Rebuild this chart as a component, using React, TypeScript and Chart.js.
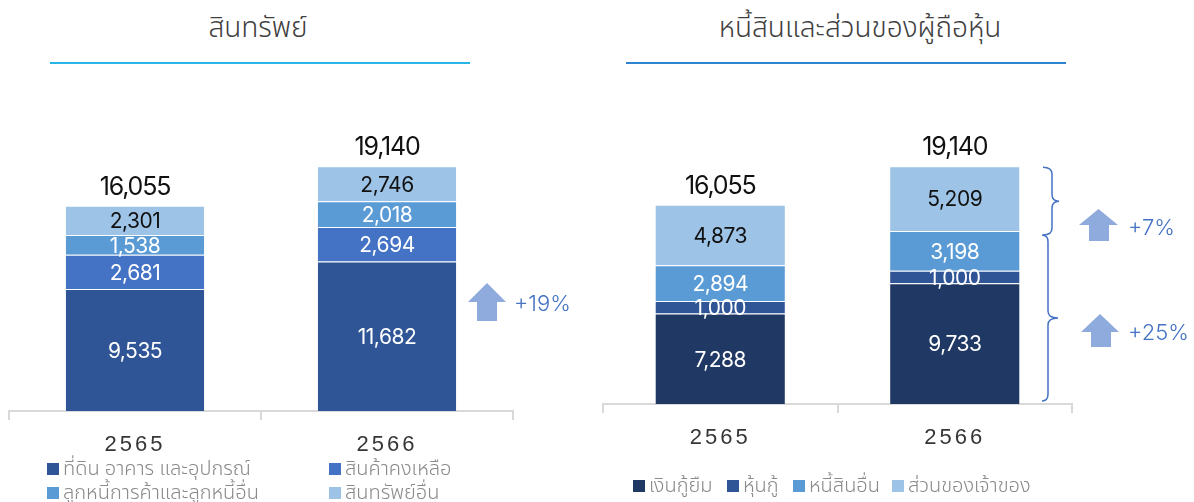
import React, { useEffect, useRef } from "react";
import { Chart, registerables } from "chart.js";

Chart.register(...registerables);

// ---------- data ----------
const years = ["2565", "2566"];

const assetNames = ["ที่ดิน อาคาร และอุปกรณ์", "สินค้าคงเหลือ", "ลูกหนี้การค้าและลูกหนี้อื่น", "สินทรัพย์อื่น"];
const ppe = [9535, 11682];
const inventory = [2681, 2694];
const receivables = [1538, 2018];
const otherAssets = [2301, 2746];
const assetTotals = [16055, 19140];
const assetColors = ["#2F5597", "#4472C4", "#5B9BD5", "#9DC3E6"];
const assetTextColors = ["#FFFFFF", "#FFFFFF", "#FFFFFF", "#111111"];

const liabNames = ["เงินกู้ยืม", "หุ้นกู้", "หนี้สินอื่น", "ส่วนของเจ้าของ"];
const loans = [7288, 9733];
const debentures = [1000, 1000];
const otherLiabilities = [2894, 3198];
const equity = [4873, 5209];
const liabTotals = [16055, 19140];
const liabColors = ["#203864", "#2F5597", "#5B9BD5", "#9DC3E6"];
const liabTextColors = ["#FFFFFF", "#FFFFFF", "#FFFFFF", "#111111"];

const assetGrowth = "+19%";
const equityGrowth = "+7%";
const liabilityGrowth = "+25%";

const titleAssets = "สินทรัพย์";
const titleLiab = "หนี้สินและส่วนของผู้ถือหุ้น";

// ---------- style ----------
const THAI = '"Noto Sans Thai", "Noto Sans Thai UI", "Noto Looped Thai", "Loma", "Garuda", "Tlwg Typist", "Norasi", "Noto Sans", sans-serif';
const NUM = 'Inter, "Noto Sans", sans-serif';
const ARROW = "#8FAADC";
const ACCENT = "#4472C4";

const fmt = (v: number) => v.toLocaleString("en-US");

function drawArrow(ctx: any, hl: number, hr: number, tip: number, base: number, sl: number, sr: number, bottom: number) {
  ctx.beginPath();
  ctx.moveTo((hl + hr) / 2, tip);
  ctx.lineTo(hr, base);
  ctx.lineTo(sr, base);
  ctx.lineTo(sr, bottom);
  ctx.lineTo(sl, bottom);
  ctx.lineTo(sl, base);
  ctx.lineTo(hl, base);
  ctx.closePath();
  ctx.fillStyle = ARROW;
  ctx.fill();
}

function drawBrace(ctx: any, xv: number, top: number, bot: number, endX: number, tipX: number) {
  const mid = (top + bot) / 2;
  const r = 7;
  ctx.beginPath();
  ctx.moveTo(endX, top);
  ctx.quadraticCurveTo(xv, top, xv, top + r);
  ctx.lineTo(xv, mid - r);
  ctx.quadraticCurveTo(xv, mid, tipX, mid);
  ctx.quadraticCurveTo(xv, mid, xv, mid + r);
  ctx.lineTo(xv, bot - r);
  ctx.quadraticCurveTo(xv, bot, endX, bot);
  ctx.strokeStyle = ACCENT;
  ctx.lineWidth = 1.5;
  ctx.stroke();
}

function drawGrowthText(ctx: any, text: string, x: number, y: number) {
  ctx.save();
  ctx.letterSpacing = "0px";
  ctx.font = `300 22px ${NUM}`;
  ctx.fillStyle = ACCENT;
  ctx.textAlign = "left";
  ctx.textBaseline = "middle";
  ctx.fillText(text, x, y);
  ctx.restore();
}

type Cfg = {
  names: string[];
  series: number[][];
  colors: string[];
  textColors: string[];
  totals: number[];
  pad: { left: number; right: number; top: number };
  axisHeight: number;
  catPct: number;
  extra: (chart: any, ctx: any) => void;
};

function StackChart({ cfg, style }: { cfg: Cfg; style: any }) {
  const ref = useRef<HTMLCanvasElement>(null);
  useEffect(() => {
    const canvas = ref.current!;
    const plugin = {
      id: "extras",
      beforeDraw(chart: any) {
        chart.ctx.letterSpacing = "3px";
      },
      beforeDatasetsDraw(chart: any) {
        chart.ctx.letterSpacing = "0px";
      },
      afterDatasetsDraw(chart: any) {
        const ctx = chart.ctx;
        ctx.save();
        ctx.letterSpacing = "-0.5px";
        ctx.font = `400 21px ${NUM}`;
        ctx.textAlign = "center";
        ctx.textBaseline = "middle";
        chart.data.datasets.forEach((ds: any, di: number) => {
          const meta = chart.getDatasetMeta(di);
          meta.data.forEach((el: any, i: number) => {
            const p = el.getProps(["x", "y", "base"], true);
            ctx.fillStyle = cfg.textColors[di];
            ctx.fillText(fmt(ds.data[i]), p.x, (p.y + p.base) / 2 + 1.5);
          });
        });
        const last = chart.getDatasetMeta(chart.data.datasets.length - 1);
        ctx.font = `400 25px ${NUM}`;
        ctx.letterSpacing = "-1.2px";
        ctx.fillStyle = "#111111";
        ctx.textBaseline = "alphabetic";
        last.data.forEach((el: any, i: number) => {
          ctx.fillText(fmt(cfg.totals[i]), el.x, el.y - 11);
        });
        ctx.letterSpacing = "0px";
        cfg.extra(chart, ctx);
        ctx.restore();
      },
    };
    const chart = new Chart(canvas, {
      type: "bar",
      data: {
        labels: years,
        datasets: cfg.series.map((d, i) => ({
          label: cfg.names[i],
          data: d,
          backgroundColor: cfg.colors[i],
          borderColor: "rgba(255,255,255,0.35)",
          borderWidth: 1,
          barPercentage: 1,
          categoryPercentage: cfg.catPct,
        })),
      },
      options: {
        responsive: false,
        animation: false,
        devicePixelRatio: 1,
        layout: { padding: { left: cfg.pad.left, right: cfg.pad.right, top: cfg.pad.top, bottom: 0 } },
        plugins: { legend: { display: false }, tooltip: { enabled: false }, title: { display: false } },
        scales: {
          x: {
            stacked: true,
            grid: { offset: true, drawOnChartArea: false, drawTicks: true, tickLength: 9, color: "#D9D9D9", lineWidth: 2 },
            border: { display: true, color: "#D9D9D9", width: 2 },
            ticks: { color: "#363636", padding: 12, font: { family: '"Liberation Sans", Arial, sans-serif', size: 22 } },
            afterFit: (s: any) => {
              s.height = cfg.axisHeight;
            },
          },
          y: { stacked: true, display: false, min: 0, max: 24000 },
        },
      },
      plugins: [plugin],
    } as any);
    return () => chart.destroy();
  }, []);
  return <canvas ref={ref} width={style.width} height={style.height} style={{ position: "absolute", ...style }} />;
}

const assetCfg: Cfg = {
  names: assetNames,
  series: [ppe, inventory, receivables, otherAssets],
  colors: assetColors,
  textColors: assetTextColors,
  totals: assetTotals,
  pad: { left: 9, right: 87, top: 104 },
  axisHeight: 49,
  catPct: 0.556,
  extra: (chart, ctx) => {
    drawArrow(ctx, 468, 506, 283, 302, 477, 497, 321);
    drawGrowthText(ctx, assetGrowth, 514, 304);
  },
};

const liabCfg: Cfg = {
  names: liabNames,
  series: [loans, debentures, otherLiabilities, equity],
  colors: liabColors,
  textColors: liabTextColors,
  totals: liabTotals,
  pad: { left: 3, right: 122, top: 106 },
  axisHeight: 56,
  catPct: 0.559,
  extra: (chart, ctx) => {
    const y = chart.scales.y;
    const top = y.getPixelForValue(liabTotals[1]) + 1;
    const mid = y.getPixelForValue(liabTotals[1] - equity[1]) + 4;
    const bot = y.getPixelForValue(0) - 3;
    drawBrace(ctx, 452, top, mid, 443, 459);
    drawBrace(ctx, 448, mid, bot, 442, 458);
    drawArrow(ctx, 479, 518, 209, 225, 489, 509, 241);
    drawGrowthText(ctx, equityGrowth, 528, 228);
    drawArrow(ctx, 481, 519, 314, 332, 491, 511, 347);
    drawGrowthText(ctx, liabilityGrowth, 528, 333);
  },
};

function LegendItem({ x, y, color, text }: { x: number; y: number; color: string; text: string }) {
  return (
    <div style={{ position: "absolute", left: x, top: y - 14, height: 28, display: "flex", alignItems: "center", whiteSpace: "nowrap" }}>
      <span style={{ display: "inline-block", width: 12, height: 12, background: color, marginRight: 4 }} />
      <span style={{ fontFamily: THAI, fontSize: 20, fontWeight: 300, color: "#8A8A8A" }}>{text}</span>
    </div>
  );
}

export default function App() {
  const titleStyle: any = {
    position: "absolute",
    top: 7,
    height: 44,
    lineHeight: "44px",
    fontFamily: THAI,
    fontSize: 28,
    fontWeight: 300,
    color: "#404040",
    textAlign: "center",
    whiteSpace: "nowrap",
  };
  return (
    <div style={{ position: "absolute", left: 0, top: 0, width: 1194, height: 502, background: "#FFFFFF", overflow: "hidden" }}>
      <div style={{ ...titleStyle, left: 58, width: 400 }}>{titleAssets}</div>
      <div style={{ ...titleStyle, left: 660, width: 400 }}>{titleLiab}</div>
      <div style={{ position: "absolute", left: 50, top: 62, width: 420, height: 2, background: "#29B5E8" }} />
      <div style={{ position: "absolute", left: 626, top: 62, width: 440, height: 2, background: "#2E83D0" }} />

      <StackChart cfg={assetCfg} style={{ left: 0, top: 0, width: 600, height: 460 }} />
      <StackChart cfg={liabCfg} style={{ left: 600, top: 0, width: 594, height: 460 }} />

      <LegendItem x={47} y={469} color={assetColors[0]} text={assetNames[0]} />
      <LegendItem x={329} y={469} color={assetColors[1]} text={assetNames[1]} />
      <LegendItem x={47} y={493} color={assetColors[2]} text={assetNames[2]} />
      <LegendItem x={329} y={493} color={assetColors[3]} text={assetNames[3]} />

      <LegendItem x={633} y={486} color={liabColors[0]} text={liabNames[0]} />
      <LegendItem x={727} y={486} color={liabColors[1]} text={liabNames[1]} />
      <LegendItem x={793} y={486} color={liabColors[2]} text={liabNames[2]} />
      <LegendItem x={892} y={486} color={liabColors[3]} text={liabNames[3]} />
    </div>
  );
}
